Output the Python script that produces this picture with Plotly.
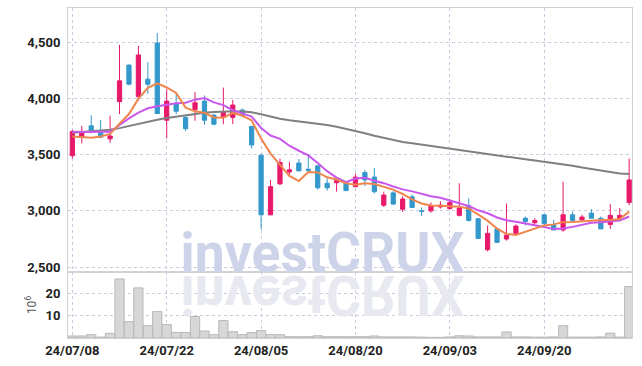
import plotly.graph_objects as go

dates = ["24/07/08","24/07/09","24/07/10","24/07/11","24/07/12","24/07/15","24/07/16","24/07/17","24/07/18","24/07/19",
         "24/07/22","24/07/23","24/07/24","24/07/25","24/07/26","24/07/29","24/07/30","24/07/31","24/08/01","24/08/02",
         "24/08/05","24/08/06","24/08/07","24/08/08","24/08/09","24/08/12","24/08/13","24/08/14","24/08/16","24/08/19",
         "24/08/20","24/08/21","24/08/22","24/08/23","24/08/26","24/08/27","24/08/28","24/08/29","24/08/30","24/09/02",
         "24/09/03","24/09/04","24/09/05","24/09/06","24/09/09","24/09/10","24/09/11","24/09/12","24/09/13","24/09/19",
         "24/09/20","24/09/23","24/09/24","24/09/25","24/09/26","24/09/27","24/09/30","24/10/02","24/10/04","24/10/07"]

open_ = [3490,3655,3755,3705,3640,3970,4295,4015,4170,4490,
         3805,3950,3830,3900,3975,3850,3830,3830,3895,3750,
         3495,2965,3240,3345,3425,3370,3400,3245,3250,3250,
         3215,3340,3300,3050,3160,3015,3125,3000,3000,3035,
         3020,2960,3045,2930,2655,2840,2750,2800,2935,2895,
         2965,2875,2830,2965,2920,2980,2935,2880,2935,3075]
high = [3720,3755,3850,3805,3845,4475,4300,4465,4320,4580,
        4080,4035,3845,4055,4025,3860,4095,3985,3910,3750,
        3500,3275,3465,3435,3460,3505,3400,3290,3290,3255,
        3330,3365,3380,3170,3175,3130,3145,3030,3075,3085,
        3105,3245,3110,2935,2870,2850,3065,2880,2950,2935,
        2965,2920,3260,2995,2965,3015,2950,3060,3025,3465]
low = [3465,3600,3690,3645,3605,3860,4115,3980,4040,3860,
       3645,3860,3710,3800,3765,3760,3770,3770,3835,3555,
       2835,2960,3230,3300,3355,3345,3190,3180,3170,3175,
       3210,3220,3155,3035,3055,2990,3025,2955,2985,3020,
       3010,2950,2905,2750,2640,2715,2735,2795,2870,2880,
       2880,2830,2815,2910,2915,2935,2840,2840,2930,3050]
close = [3705,3695,3700,3655,3665,4155,4125,4385,4125,3865,
         3975,3885,3730,3960,3805,3770,3875,3940,3845,3585,
         2965,3215,3430,3365,3355,3360,3205,3205,3270,3180,
         3300,3275,3170,3140,3060,3105,3030,2995,3045,3050,
         3075,3025,2915,2755,2800,2720,2785,2865,2905,2915,
         2885,2830,2965,2915,2945,2935,2840,2960,2960,3275]

ma_orange = [3660,3655,3650,3660,3683,3774,3860,3997,4092,4132,
             4096,4048,3917,3884,3871,3830,3828,3870,3847,3803,
             3642,3509,3407,3311,3265,3345,3342,3298,3279,3244,
             3231,3245,3238,3213,3189,3150,3102,3066,3047,3045,
             3039,3037,3021,2963,2913,2842,2795,2786,2815,2838,
             2871,2880,2900,2902,2907,2918,2919,2918,2927,2993]
ma_purple = [3703,3700,3700,3703,3703,3763,3822,3872,3911,3930,
             3945,3955,3960,3988,4002,3964,3939,3894,3866,3838,
             3736,3669,3639,3579,3534,3493,3426,3353,3295,3255,
             3288,3294,3268,3246,3216,3191,3173,3152,3130,3117,
             3094,3069,3043,3005,2979,2941,2916,2903,2889,2876,
             2857,2838,2843,2858,2873,2894,2900,2909,2914,2950]
ma_gray = [3695,3700,3705,3712,3720,3735,3755,3775,3795,3810,
           3825,3838,3850,3862,3872,3878,3882,3884,3882,3875,
           3858,3835,3818,3805,3795,3785,3775,3762,3748,3730,
           3712,3690,3668,3648,3628,3612,3600,3588,3576,3565,
           3552,3540,3527,3512,3500,3490,3478,3468,3458,3448,
           3437,3425,3413,3400,3386,3372,3358,3343,3332,3328]

volume = [0.9,0.9,1.5,0.4,2.1,26.4,7.3,22.4,5.5,11.8,
          6.0,2.5,2.5,9.6,3.1,1.5,7.8,2.8,1.5,2.4,
          3.3,1.5,1.5,0.6,0.6,0.6,1.0,0.6,0.6,0.6,
          0.6,0.6,0.9,0.5,0.5,0.5,0.5,0.4,0.3,0.3,
          0.5,1.0,0.9,0.5,0.5,0.5,2.7,0.5,0.5,0.4,
          0.4,0.5,5.5,0.4,0.4,0.4,0.5,2.2,0.4,23.0]

tick_dates = ["24/07/08","24/07/22","24/08/05","24/08/20","24/09/03","24/09/20"]
price_ticks = [2500,3000,3500,4000,4500]
volume_ticks = [10,20]

FONT = "Roboto"
grid = dict(showgrid=True, gridcolor="#c9cbe0", griddash="dot", gridwidth=1)
frame = dict(showline=True, linecolor="#d2d2d2", linewidth=1, mirror=True, zeroline=False, automargin=False)

fig = go.Figure()
fig.add_trace(go.Candlestick(
    x=dates, open=open_, high=high, low=low, close=close,
    increasing=dict(line=dict(color="#e8196b", width=1), fillcolor="#e8196b"),
    decreasing=dict(line=dict(color="#3398cb", width=1), fillcolor="#3398cb"),
    whiskerwidth=0, xaxis="x", yaxis="y", showlegend=False))
fig.add_trace(go.Scatter(x=dates, y=ma_gray, mode="lines", line=dict(color="#808080", width=2),
                         xaxis="x", yaxis="y", showlegend=False))
fig.add_trace(go.Scatter(x=dates, y=ma_purple, mode="lines", line=dict(color="#c957ee", width=2),
                         xaxis="x", yaxis="y", showlegend=False))
fig.add_trace(go.Scatter(x=dates, y=ma_orange, mode="lines", line=dict(color="#f0854d", width=2),
                         xaxis="x", yaxis="y", showlegend=False))
fig.add_trace(go.Bar(x=dates, y=volume, marker=dict(color="#d7d7d7", line=dict(color="#b8b8b8", width=1)),
                     xaxis="x2", yaxis="y2", showlegend=False))

xcommon = dict(type="category", range=[-0.46, 59.3], tickvals=tick_dates, ticktext=tick_dates,
               ticks="", **grid, **frame)

fig.update_layout(
    width=642, height=366,
    margin=dict(l=68, r=10, t=8, b=28),
    paper_bgcolor="white", plot_bgcolor="white",
    boxgap=0.36, bargap=0.02,
    font=dict(family=FONT, color="#222"),
    xaxis=dict(domain=[0, 1], anchor="y", showticklabels=False, rangeslider=dict(visible=False), **xcommon),
    xaxis2=dict(domain=[0, 1], anchor="y2", matches="x", showticklabels=True,
                tickfont=dict(family=FONT, size=13, color="#222", weight="bold"), **xcommon),
    yaxis=dict(domain=[0.2, 1], range=[2457, 4802], tickvals=price_ticks, tickformat=",",
               tickfont=dict(family=FONT, size=13, color="#222", weight="bold"),
               ticks="", ticklabelstandoff=4, **grid, **frame),
    yaxis2=dict(domain=[0, 0.2], range=[0, 29.5], tickvals=volume_ticks,
                tickfont=dict(family=FONT, size=13, color="#222", weight="bold"),
                ticks="", ticklabelstandoff=4,
                title=dict(text="10<sup>6</sup>", font=dict(family=FONT, size=12, color="#555"), standoff=6),
                **grid, **frame),
    annotations=[
        dict(text="investCRUX", xref="paper", yref="paper", x=0.4505, y=0.259,
             xanchor="center", yanchor="middle", showarrow=False,
             font=dict(family="Roboto", size=56, color="#cdd3e8", weight="bold")),
        dict(text="investCRUX", xref="paper", yref="paper", x=0.4505, y=0.130,
             xanchor="center", yanchor="middle", showarrow=False,
             font=dict(family="Roboto", size=56, color="#e7e8f0", weight="bold")),
    ],
)

post = """
document.body.style.margin = '0';
var gd = document.getElementById('{plot_id}');
function fixWM(){
  [0, 1].forEach(function(i){
    var a = gd.querySelector('g.annotation[data-index="' + i + '"]');
    if(!a) return;
    var t = a.querySelector('text.annotation-text');
    if(t){ t.setAttribute('textLength', '284'); t.setAttribute('lengthAdjust', 'spacingAndGlyphs'); }
    if(i === 1){ a.style.transformBox='fill-box'; a.style.transformOrigin='center'; a.style.transform='scaleY(-1)'; }
  });
}
fixWM();
gd.on('plotly_afterplot', fixWM);
"""
fig.write_html("out.html", post_script=post, config={"displayModeBar": False})
